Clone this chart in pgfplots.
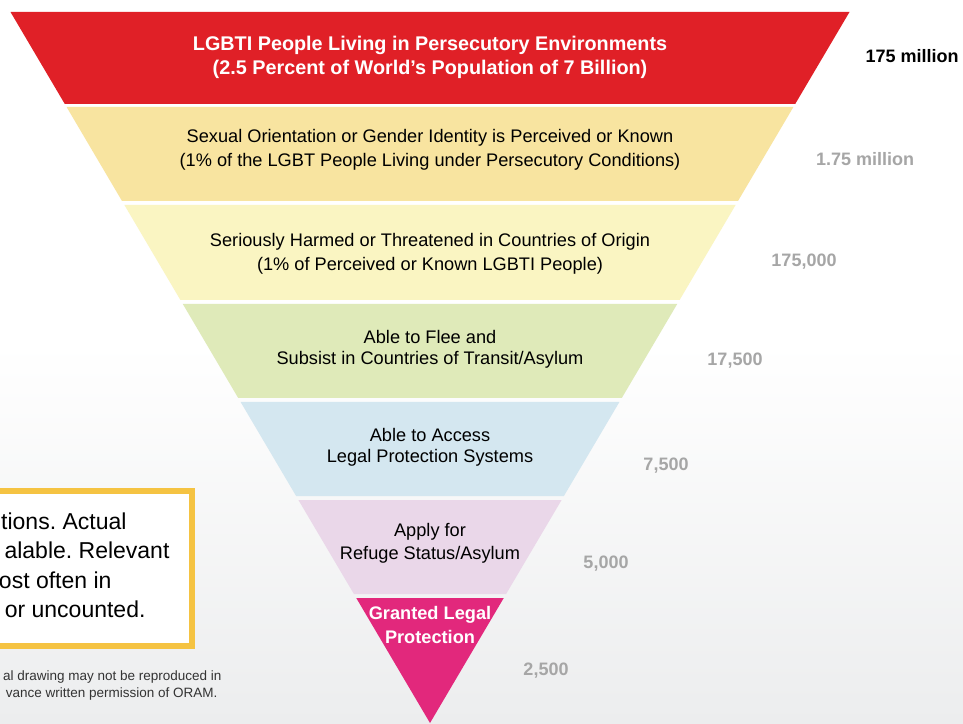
\documentclass[border=0pt]{standalone}
\usepackage{pgfplots}
\pgfplotsset{compat=1.18}
\usepackage{fontspec}
\setmainfont{Liberation Sans}
\frenchspacing
\definecolor{cRed}{HTML}{E02027}
\definecolor{cOrange}{HTML}{F8E4A0}
\definecolor{cYellow}{HTML}{FAF5C2}
\definecolor{cGreen}{HTML}{DFEAB9}
\definecolor{cBlue}{HTML}{D4E7F0}
\definecolor{cLav}{HTML}{EAD7E9}
\definecolor{cMag}{HTML}{E2287C}
\definecolor{numgray}{HTML}{A6A6A6}
\definecolor{boxyellow}{HTML}{F5C342}
\definecolor{bggray}{HTML}{ECEDEE}
\definecolor{smallgray}{HTML}{333333}
\newcommand\fs[1]{\fontsize{#1bp}{#1bp}\selectfont}
\begin{document}
\begin{tikzpicture}[x=1bp,y=1bp]
\useasboundingbox (0,0) rectangle (963,724);
\clip (0,0) rectangle (963,724);
\fill[white] (0,0) rectangle (963,724);
\shade[top color=white, bottom color=bggray] (0,0) rectangle (963,380);
\begin{axis}[at={(0,0)}, anchor=south west, scale only axis,
  width=963bp, height=724bp, xmin=0, xmax=963, ymin=0, ymax=724,
  y dir=reverse, hide axis, clip=false]
% funnel layers: (left top)(right top)(right bottom)(left bottom)
\addplot[fill=cRed, draw=none] coordinates {(10.5,12)(849.5,12)(795.2,104)(64.8,104)} -- cycle;
\addplot[fill=cOrange, draw=none] coordinates {(66.6,107)(793.4,107)(738,201)(122,201)} -- cycle;
\addplot[fill=cYellow, draw=none] coordinates {(124.4,205)(735.6,205)(679.6,300)(180.4,300)} -- cycle;
\addplot[fill=cGreen, draw=none] coordinates {(182.8,304)(677.2,304)(621.8,398)(238.2,398)} -- cycle;
\addplot[fill=cBlue, draw=none] coordinates {(240.6,402)(619.4,402)(563.9,496)(296.1,496)} -- cycle;
\addplot[fill=cLav, draw=none] coordinates {(298.4,500)(561.6,500)(506.1,594)(353.9,594)} -- cycle;
\addplot[fill=cMag, draw=none] coordinates {(356.25,598)(503.75,598)(430,723)} -- cycle;
% layer texts
\node[white, font=\fs{19.8}\bfseries] at (axis cs:430,45) {LGBTI People Living in Persecutory Environments};
\node[white, font=\fs{19.8}\bfseries] at (axis cs:430,69) {(2.5 Percent of World’s Population of 7 Billion)};
\node[black, font=\fs{18.2}] at (axis cs:430,138) {Sexual Orientation or Gender Identity is Perceived or Known};
\node[black, font=\fs{18.2}] at (axis cs:430,162) {(1\% of the LGBT People Living under Persecutory Conditions)};
\node[black, font=\fs{18.2}] at (axis cs:430,242) {Seriously Harmed or Threatened in Countries of Origin};
\node[black, font=\fs{18.2}] at (axis cs:430,266) {(1\% of Perceived or Known LGBTI People)};
\node[black, font=\fs{18.2}] at (axis cs:430,337) {Able to Flee and};
\node[black, font=\fs{18.2}] at (axis cs:430,360) {Subsist in Countries of Transit/Asylum};
\node[black, font=\fs{18.2}] at (axis cs:430,435) {Able to Access};
\node[black, font=\fs{18.2}] at (axis cs:430,458) {Legal Protection Systems};
\node[black, font=\fs{18.2}] at (axis cs:430,532) {Apply for};
\node[black, font=\fs{18.2}] at (axis cs:430,555) {Refuge Status/Asylum};
\node[white, font=\fs{18.2}\bfseries] at (axis cs:430,615) {Granted Legal};
\node[white, font=\fs{18.2}\bfseries] at (axis cs:430,637) {Protection};
% values
\node[black, font=\fs{18}\bfseries] at (axis cs:912,56) {175 million};
\node[numgray, font=\fs{18}\bfseries] at (axis cs:865,159) {1.75 million};
\node[numgray, font=\fs{18}\bfseries] at (axis cs:804,262) {175,000};
\node[numgray, font=\fs{18}\bfseries] at (axis cs:735,361) {17,500};
\node[numgray, font=\fs{18}\bfseries] at (axis cs:666,466) {7,500};
\node[numgray, font=\fs{18}\bfseries] at (axis cs:606,564) {5,000};
\node[numgray, font=\fs{18}\bfseries] at (axis cs:546,671) {2,500};
% note box
\draw[line width=6bp, boxyellow, fill=white] (axis cs:-20,491) rectangle (axis cs:192,646);
\node[black, font=\fs{23}, anchor=east] at (axis cs:130,521) {tions. Actual};
\node[black, font=\fs{23}, anchor=east] at (axis cs:173,550) {alable. Relevant};
\node[black, font=\fs{23}, anchor=east] at (axis cs:115,580) {ost often in};
\node[black, font=\fs{23}, anchor=east] at (axis cs:149,609) {or uncounted.};
\node[smallgray, font=\fs{13.5}, anchor=east] at (axis cs:225,677) {al drawing may not be reproduced in};
\node[smallgray, font=\fs{13.5}, anchor=east] at (axis cs:221,694) {vance written permission of ORAM.};
\end{axis}
\end{tikzpicture}
\end{document}
